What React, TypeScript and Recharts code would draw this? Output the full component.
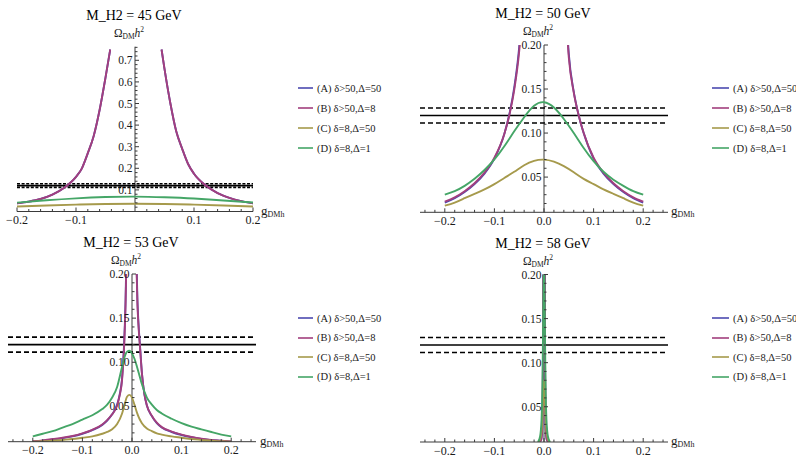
import React from 'react';
import { LineChart, Line, XAxis, YAxis, ReferenceLine, ReferenceDot, Legend } from 'recharts';

// ---------------- data ----------------
const SERIES_NAMES = ['(A) δ>50,Δ=50', '(B) δ>50,Δ=8', '(C) δ=8,Δ=50', '(D) δ=8,Δ=1'];
const TITLES = ['M_H2 = 45 GeV', 'M_H2 = 50 GeV', 'M_H2 = 53 GeV', 'M_H2 = 58 GeV'];

const OMEGA_CENTRAL = 0.12;
const OMEGA_LOW = 0.1115;
const OMEGA_HIGH = 0.1285;

const X_TICKS_P1 = [-0.2, -0.1, 0.1, 0.2];
const X_TICKS = [-0.2, -0.1, 0, 0.1, 0.2];
const Y_TICKS_P1 = [0.1, 0.2, 0.3, 0.4, 0.5, 0.6, 0.7];
const Y_TICKS = [0.05, 0.1, 0.15, 0.2];

// Panel 1 (M_H2 = 45 GeV)
const P1_AB_X = [-0.2, -0.18, -0.16, -0.14, -0.12, -0.1, -0.09, -0.08, -0.07, -0.06, -0.05, -0.042, 0, 0.045, 0.05, 0.06, 0.07, 0.08, 0.09, 0.1, 0.12, 0.14, 0.16, 0.18, 0.2];
const P1_A = [0.038, 0.046, 0.058, 0.078, 0.11, 0.16, 0.2, 0.27, 0.35, 0.47, 0.62, 0.75, null, 0.75, 0.66, 0.5, 0.37, 0.29, 0.22, 0.175, 0.12, 0.085, 0.063, 0.048, 0.038];
const P1_B = [0.038, 0.046, 0.058, 0.078, 0.11, 0.16, 0.2, 0.27, 0.35, 0.47, 0.62, 0.75, null, 0.75, 0.66, 0.5, 0.37, 0.29, 0.22, 0.175, 0.12, 0.085, 0.063, 0.048, 0.038];
const P1_CD_X = [-0.2, -0.15, -0.1, -0.05, 0, 0.05, 0.1, 0.15, 0.2];
const P1_C = [0.023, 0.028, 0.032, 0.035, 0.036, 0.035, 0.032, 0.028, 0.023];
const P1_D = [0.041, 0.052, 0.061, 0.067, 0.069, 0.066, 0.06, 0.051, 0.042];

// Panel 2 (M_H2 = 50 GeV)
const P2_AB_X = [-0.2, -0.18, -0.16, -0.14, -0.12, -0.1, -0.08, -0.07, -0.06, -0.05, -0.045, 0, 0.045, 0.05, 0.06, 0.07, 0.08, 0.1, 0.12, 0.14, 0.16, 0.18, 0.2];
const P2_A = [0.021, 0.026, 0.033, 0.042, 0.054, 0.071, 0.099, 0.121, 0.152, 0.198, 0.235, null, 0.235, 0.19, 0.147, 0.12, 0.1, 0.071, 0.054, 0.042, 0.033, 0.026, 0.021];
const P2_B = [0.022, 0.027, 0.034, 0.043, 0.055, 0.072, 0.099, 0.12, 0.149, 0.193, 0.228, null, 0.228, 0.186, 0.146, 0.12, 0.1, 0.072, 0.055, 0.043, 0.034, 0.027, 0.022];
const P2_CD_X = [-0.2, -0.18, -0.16, -0.14, -0.12, -0.1, -0.08, -0.06, -0.04, -0.02, 0, 0.02, 0.04, 0.06, 0.08, 0.1, 0.12, 0.14, 0.16, 0.18, 0.2];
const P2_C = [0.0175, 0.021, 0.026, 0.031, 0.036, 0.042, 0.049, 0.056, 0.0635, 0.0685, 0.0698, 0.0675, 0.0625, 0.0555, 0.048, 0.042, 0.036, 0.031, 0.026, 0.021, 0.0175];
const P2_D = [0.03, 0.034, 0.04, 0.048, 0.058, 0.07, 0.085, 0.102, 0.118, 0.131, 0.135, 0.129, 0.116, 0.1, 0.083, 0.068, 0.056, 0.047, 0.04, 0.034, 0.03];

// Panel 3 (M_H2 = 53 GeV)
const P3_AB_X = [-0.2, -0.18, -0.16, -0.14, -0.12, -0.1, -0.08, -0.06, -0.05, -0.04, -0.03, -0.025, -0.02, -0.016, -0.013, -0.011, 0, 0.008, 0.011, 0.013, 0.016, 0.02, 0.025, 0.03, 0.04, 0.05, 0.06, 0.08, 0.1, 0.12, 0.14, 0.16, 0.18, 0.2];
const P3_A = [0.01, 0.011, 0.0125, 0.014, 0.016, 0.019, 0.023, 0.029, 0.034, 0.041, 0.052, 0.063, 0.082, 0.12, 0.17, 0.23, null, 0.24, 0.17, 0.145, 0.12, 0.088, 0.064, 0.051, 0.039, 0.031, 0.026, 0.021, 0.0176, 0.015, 0.013, 0.0118, 0.011, 0.01];
const P3_B = [0.0105, 0.0115, 0.013, 0.0145, 0.0165, 0.0195, 0.0235, 0.0295, 0.0345, 0.041, 0.051, 0.062, 0.08, 0.116, 0.165, 0.22, null, 0.23, 0.165, 0.142, 0.118, 0.087, 0.064, 0.051, 0.0395, 0.0315, 0.0265, 0.0215, 0.018, 0.0155, 0.0135, 0.012, 0.0112, 0.0102];
const P3_CD_X = [-0.2, -0.18, -0.16, -0.14, -0.12, -0.1, -0.08, -0.06, -0.05, -0.04, -0.03, -0.02, -0.015, -0.01, -0.005, 0, 0.005, 0.01, 0.015, 0.02, 0.03, 0.04, 0.05, 0.06, 0.08, 0.1, 0.12, 0.14, 0.16, 0.18, 0.2];
const P3_C = [0.01, 0.0105, 0.011, 0.012, 0.013, 0.0145, 0.016, 0.019, 0.021, 0.024, 0.03, 0.042, 0.052, 0.061, 0.063, 0.06, 0.052, 0.043, 0.036, 0.031, 0.025, 0.022, 0.0195, 0.018, 0.016, 0.0145, 0.013, 0.012, 0.011, 0.0105, 0.01];
const P3_D = [0.016, 0.019, 0.022, 0.026, 0.03, 0.035, 0.04, 0.047, 0.052, 0.06, 0.072, 0.095, 0.106, 0.112, 0.113, 0.11, 0.104, 0.095, 0.085, 0.075, 0.06, 0.052, 0.046, 0.042, 0.036, 0.031, 0.027, 0.024, 0.021, 0.018, 0.016];

// Panel 4 (M_H2 = 58 GeV)
const P4_AB_X = [-0.01, -0.006, -0.004, -0.003, -0.0022, -0.0016, 0, 0.0016, 0.0022, 0.003, 0.004, 0.006, 0.01];
const P4_A = [0.01, 0.012, 0.02, 0.04, 0.09, 0.21, null, 0.21, 0.09, 0.04, 0.02, 0.012, 0.01];
const P4_B = [0.01, 0.012, 0.021, 0.042, 0.095, 0.22, null, 0.22, 0.095, 0.042, 0.021, 0.012, 0.01];
const P4_CD_X = [-0.012, -0.008, -0.005, -0.003, -0.0015, 0, 0.0015, 0.003, 0.005, 0.008, 0.012];
const P4_C = [0.01, 0.013, 0.022, 0.04, 0.065, 0.08, 0.065, 0.04, 0.022, 0.013, 0.01];
const P4_D = [0.01, 0.016, 0.035, 0.08, 0.16, 0.23, 0.16, 0.08, 0.035, 0.016, 0.01];

// ---------------- styles ----------------
const W = 796;
const H = 457;
const FONT = '"Liberation Serif", "DejaVu Serif", serif';
const AXIS = '#3a3a3a';
const TEXT = '#1a1a1a';
const COLORS = ['#4c4aaf', '#a23f7e', '#a69a4c', '#45a667'];

const zip = (xs: number[], ys: (number | null)[]) => xs.map((x, i) => ({ x, y: ys[i] }));

const minorTicks = (from: number, to: number, step: number, majors: number[]) => {
  const out: number[] = [];
  const n = Math.round((to - from) / step);
  for (let i = 0; i <= n; i++) {
    const v = Math.round((from + i * step) * 10000) / 10000;
    if (Math.abs(v) < 1e-9) continue;
    if (majors.some((m) => Math.abs(m - v) < 1e-9)) continue;
    out.push(v);
  }
  return out;
};

const fmtX = (v: number) => (Math.abs(v) < 1e-9 ? '0.0' : (v < 0 ? '\u2212' : '') + Math.abs(v).toFixed(1));

type Curve = 'monotone' | 'natural';

type PanelDef = {
  title: string;
  margin: { top: number; right: number; bottom: number; left: number };
  xDomain: [number, number];
  yDomain: [number, number];
  xTicks: number[];
  xMinor: number[];
  yTicks: number[];
  yMinor: number[];
  yDigits: number;
  xLabelDx: number;
  series: { x: number[]; y: (number | null)[]; curve: Curve }[];
  legend: { left: number; top: number; swatch: number; rowH: number };
  dash: string;
};

const makeLegend = (swatch: number, rowH: number) => (props: any) => {
  const items = (props && props.payload) || [];
  return (
    <div style={{ fontFamily: FONT, fontSize: 10.5, color: TEXT }}>
      {items.map((it: any, i: number) => (
        <div key={i} style={{ display: 'flex', alignItems: 'center', height: rowH, whiteSpace: 'nowrap' }}>
          <svg width={swatch} height={4} style={{ marginRight: 4, flex: 'none' }}>
            <line x1={0} x2={swatch} y1={2} y2={2} stroke={it.color} strokeWidth={1.6} />
          </svg>
          <span>{it.value}</span>
        </div>
      ))}
    </div>
  );
};

function Panel({ p }: { p: PanelDef }) {
  const [, x1] = p.xDomain;
  const [y0, y1] = p.yDomain;
  return (
    <div style={{ position: 'absolute', left: 0, top: 0 }}>
      <LineChart width={W} height={H} margin={p.margin}>
        <XAxis
          type="number"
          dataKey="x"
          domain={p.xDomain}
          ticks={p.xTicks}
          interval={0}
          allowDataOverflow
          tickFormatter={fmtX}
          tickLine={false}
          tickSize={0}
          tickMargin={4}
          height={14}
          axisLine={{ stroke: AXIS, strokeWidth: 1 }}
          tick={{ fill: TEXT, fontSize: 12, fontFamily: FONT }}
        />
        <YAxis type="number" dataKey="y" domain={p.yDomain} allowDataOverflow hide />
        <ReferenceLine x={0} stroke={AXIS} strokeWidth={1} ifOverflow="visible" />
        {p.yTicks.map((v) => (
          <ReferenceDot
            key={'yt' + v}
            x={0}
            y={v}
            ifOverflow="visible"
            shape={(s: any) => (
              <g>
                <line x1={s.cx} x2={s.cx + 4} y1={s.cy} y2={s.cy} stroke={AXIS} strokeWidth={1} />
                <text x={s.cx - 2.5} y={s.cy + 4} textAnchor="end" fontFamily={FONT} fontSize={11.5} fill={TEXT}>
                  {v.toFixed(p.yDigits)}
                </text>
              </g>
            )}
          />
        ))}
        {p.yMinor.map((v) => (
          <ReferenceDot
            key={'ym' + v}
            x={0}
            y={v}
            ifOverflow="visible"
            shape={(s: any) => <line x1={s.cx} x2={s.cx + 2.5} y1={s.cy} y2={s.cy} stroke={AXIS} strokeWidth={1} />}
          />
        ))}
        {p.xTicks.map((v) => (
          <ReferenceDot
            key={'xt' + v}
            x={v}
            y={y0}
            ifOverflow="visible"
            shape={(s: any) => <line x1={s.cx} x2={s.cx} y1={s.cy} y2={s.cy - 4} stroke={AXIS} strokeWidth={1} />}
          />
        ))}
        {p.xMinor.map((v) => (
          <ReferenceDot
            key={'xm' + v}
            x={v}
            y={y0}
            ifOverflow="visible"
            shape={(s: any) => <line x1={s.cx} x2={s.cx} y1={s.cy} y2={s.cy - 2.5} stroke={AXIS} strokeWidth={1} />}
          />
        ))}
        <ReferenceDot
          x={0}
          y={y1}
          ifOverflow="visible"
          shape={(s: any) => (
            <g>
              <text x={s.cx - 1} y={s.cy - 27} textAnchor="middle" fontFamily={FONT} fontSize={14} fill="#000">
                {p.title}
              </text>
              <text x={s.cx - 6} y={s.cy - 10} textAnchor="middle" fontFamily={FONT} fontSize={11.5} fill={TEXT}>
                Ω
                <tspan fontSize={7.5} dy={2}>DM</tspan>
                <tspan fontStyle="italic" dy={-2}>h</tspan>
                <tspan fontSize={7.5} dy={-5}>2</tspan>
              </text>
            </g>
          )}
        />
        <ReferenceDot
          x={x1}
          y={y0}
          ifOverflow="visible"
          shape={(s: any) => (
            <text x={s.cx + p.xLabelDx} y={s.cy + 3} textAnchor="start" fontFamily={FONT} fontSize={13} fill={TEXT}>
              g<tspan fontSize={8} dy={2}>DMh</tspan>
            </text>
          )}
        />
        <ReferenceLine y={OMEGA_CENTRAL} stroke="#000" strokeWidth={1.6} />
        <ReferenceLine y={OMEGA_LOW} stroke="#000" strokeWidth={1.6} strokeDasharray={p.dash} />
        <ReferenceLine y={OMEGA_HIGH} stroke="#000" strokeWidth={1.6} strokeDasharray={p.dash} />
        {p.series.map((s, i) => (
          <Line
            key={i}
            data={zip(s.x, s.y)}
            dataKey="y"
            name={SERIES_NAMES[i]}
            type={s.curve}
            stroke={COLORS[i]}
            strokeWidth={1.9}
            dot={false}
            activeDot={false}
            connectNulls={false}
            isAnimationActive={false}
          />
        ))}
        <Legend
          layout="vertical"
          align="center"
          verticalAlign="middle"
          wrapperStyle={{ left: p.legend.left, top: p.legend.top, width: 100 }}
          content={makeLegend(p.legend.swatch, p.legend.rowH)}
        />
      </LineChart>
    </div>
  );
}

const PANELS: PanelDef[] = [
  {
    title: TITLES[0],
    margin: { top: 46.7, right: 543, bottom: 231.5, left: 17 },
    xDomain: [-0.2, 0.2],
    yDomain: [0, 0.763],
    xTicks: X_TICKS_P1,
    xMinor: minorTicks(-0.2, 0.2, 0.02, X_TICKS_P1),
    yTicks: Y_TICKS_P1,
    yMinor: minorTicks(0.02, 0.76, 0.02, Y_TICKS_P1),
    yDigits: 1,
    xLabelDx: 8,
    series: [
      { x: P1_AB_X, y: P1_A, curve: 'monotone' },
      { x: P1_AB_X, y: P1_B, curve: 'monotone' },
      { x: P1_CD_X, y: P1_C, curve: 'natural' },
      { x: P1_CD_X, y: P1_D, curve: 'natural' },
    ],
    legend: { left: 298, top: 78, swatch: 15, rowH: 20 },
    dash: '3 1.6',
  },
  {
    title: TITLES[1],
    margin: { top: 45, right: 128, bottom: 230.7, left: 420 },
    xDomain: [-0.25, 0.25],
    yDomain: [0.01, 0.2],
    xTicks: X_TICKS,
    xMinor: minorTicks(-0.24, 0.24, 0.02, X_TICKS),
    yTicks: Y_TICKS,
    yMinor: minorTicks(0.02, 0.19, 0.01, Y_TICKS),
    yDigits: 2,
    xLabelDx: 3,
    series: [
      { x: P2_AB_X, y: P2_A, curve: 'monotone' },
      { x: P2_AB_X, y: P2_B, curve: 'monotone' },
      { x: P2_CD_X, y: P2_C, curve: 'natural' },
      { x: P2_CD_X, y: P2_D, curve: 'natural' },
    ],
    legend: { left: 712, top: 78, swatch: 17, rowH: 20 },
    dash: '5 3',
  },
  {
    title: TITLES[2],
    margin: { top: 274, right: 540, bottom: 1.3, left: 8 },
    xDomain: [-0.25, 0.25],
    yDomain: [0.01, 0.2],
    xTicks: X_TICKS,
    xMinor: minorTicks(-0.24, 0.24, 0.02, X_TICKS),
    yTicks: Y_TICKS,
    yMinor: minorTicks(0.02, 0.19, 0.01, Y_TICKS),
    yDigits: 2,
    xLabelDx: 4,
    series: [
      { x: P3_AB_X, y: P3_A, curve: 'monotone' },
      { x: P3_AB_X, y: P3_B, curve: 'monotone' },
      { x: P3_CD_X, y: P3_C, curve: 'monotone' },
      { x: P3_CD_X, y: P3_D, curve: 'monotone' },
    ],
    legend: { left: 298, top: 308.3, swatch: 15, rowH: 19.5 },
    dash: '5 3',
  },
  {
    title: TITLES[3],
    margin: { top: 274.5, right: 128, bottom: 1, left: 420 },
    xDomain: [-0.25, 0.25],
    yDomain: [0.01, 0.2],
    xTicks: X_TICKS,
    xMinor: minorTicks(-0.24, 0.24, 0.02, X_TICKS),
    yTicks: Y_TICKS,
    yMinor: minorTicks(0.02, 0.19, 0.01, Y_TICKS),
    yDigits: 2,
    xLabelDx: 3,
    series: [
      { x: P4_AB_X, y: P4_A, curve: 'monotone' },
      { x: P4_AB_X, y: P4_B, curve: 'monotone' },
      { x: P4_CD_X, y: P4_C, curve: 'monotone' },
      { x: P4_CD_X, y: P4_D, curve: 'monotone' },
    ],
    legend: { left: 712, top: 308.3, swatch: 17, rowH: 19.5 },
    dash: '5 3',
  },
];

export default function App() {
  return (
    <div style={{ position: 'absolute', left: 0, top: 0, width: W, height: H, overflow: 'hidden', background: '#fff' }}>
      {PANELS.map((p, i) => (
        <Panel key={i} p={p} />
      ))}
    </div>
  );
}
